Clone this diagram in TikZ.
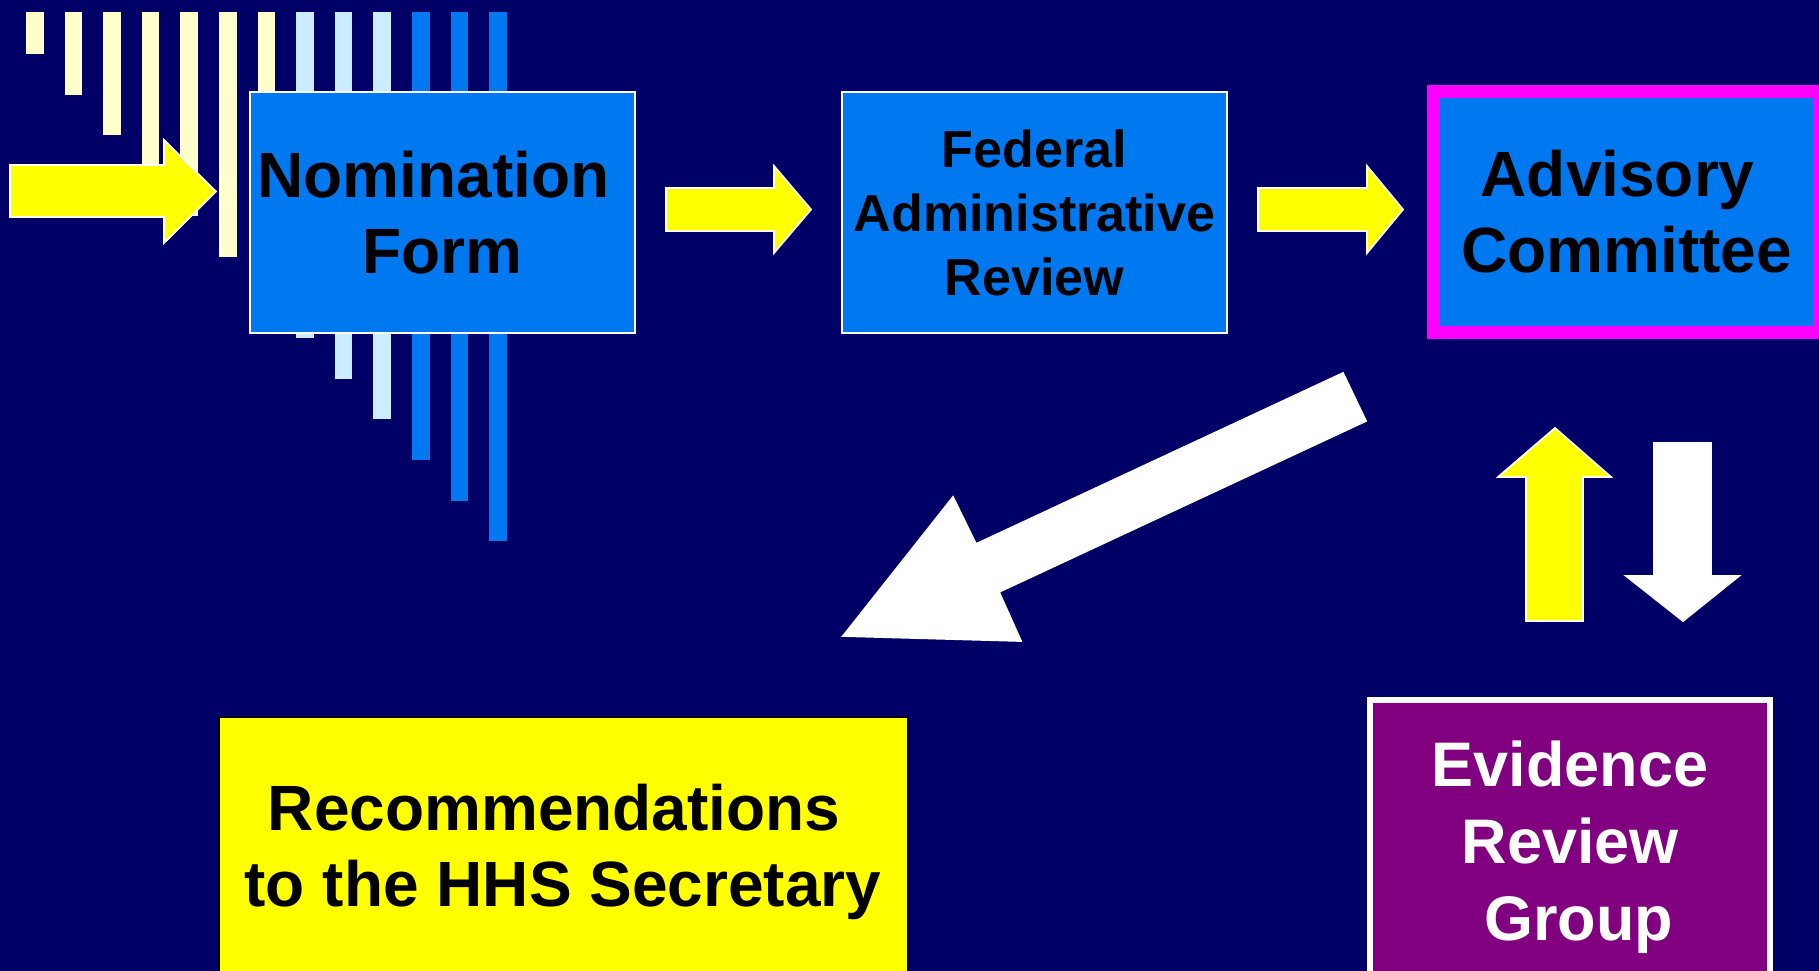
\documentclass[tikz,border=0pt]{standalone}
\usepackage{fontspec}
\setmainfont{Liberation Sans}
\usetikzlibrary{calc}
\definecolor{navy}{RGB}{0,0,102}
\definecolor{boxblue}{RGB}{0,120,240}
\definecolor{paleyellow}{RGB}{255,255,204}
\definecolor{paleblue}{RGB}{204,236,255}
\definecolor{plum}{RGB}{128,0,128}
\definecolor{signyellow}{RGB}{255,255,0}
\definecolor{brightpink}{RGB}{255,0,255}
\tikzset{
	stepbox/.style={draw=white, line width=0.4pt, fill=boxblue, minimum width=3.85cm, minimum height=2.41cm, inner sep=0pt, align=center, font=\fontsize{18.2}{21.6}\selectfont\bfseries},
	yarrow/.style={fill=signyellow, draw=white, line width=0.5pt},
	warrow/.style={fill=white, draw=white, line width=0.5pt}
}

\begin{document}
\begin{tikzpicture}[x=0.01cm, y={(0cm,-0.01cm)}]
			%%%%% START %%%%%
			
			\useasboundingbox (0, 0) rectangle (1819, 971);
			\fill[navy] (0, 0) rectangle (1819, 971);
			
			\fill[paleyellow] (26, 12) rectangle (43.5, 54);
			\fill[paleyellow] (64.6, 12) rectangle (82.1, 94.6);
			\fill[paleyellow] (103.2, 12) rectangle (120.7, 135.2);
			\fill[paleyellow] (141.8, 12) rectangle (159.3, 175.8);
			\fill[paleyellow] (180.4, 12) rectangle (197.9, 216.4);
			\fill[paleyellow] (219, 12) rectangle (236.5, 257);
			\fill[paleyellow] (257.6, 12) rectangle (275.1, 297.6);
			\fill[paleblue] (296.2, 12) rectangle (313.7, 338.2);
			\fill[paleblue] (334.8, 12) rectangle (352.3, 378.8);
			\fill[paleblue] (373.4, 12) rectangle (390.9, 419.4);
			\fill[boxblue] (412, 12) rectangle (429.5, 460);
			\fill[boxblue] (450.6, 12) rectangle (468.1, 500.6);
			\fill[boxblue] (489.2, 12) rectangle (506.7, 541.2);
			
			\node[stepbox] (nomination) at (442.5, 212.5) {\mbox{Nomination\ }\\ Form};
			\node[stepbox, font=\fontsize{14.8}{18.2}\selectfont\bfseries] (federal) at (1034.5, 212.5) {Federal\\ Administrative\\ Review};
			\node[stepbox, draw=brightpink, line width=0.13cm] (advisory) at (1626.5, 212) {\mbox{Advisory\ }\\ Committee};
			
			\node[stepbox, draw=black, fill=signyellow, minimum width=6.88cm, minimum height=2.69cm] (recommend) at (563, 851.5) {\mbox{Recommendations\ }\\ to the HHS Secretary};
			\node[stepbox, fill=plum, text=white, line width=0.06cm, minimum width=4.0cm, minimum height=2.94cm, font=\fontsize{17.9}{21.9}\selectfont\bfseries] (evidence) at (1570, 847) {Evidence\\ Review\\ \mbox{\ Group}};
			
			\draw[yarrow] (10, 165) -- (164, 165) -- (164, 140) -- (216, 191.5) -- (164, 243) -- (164, 217) -- (10, 217) -- cycle;
			\draw[yarrow] (666, 188) -- (774, 188) -- (774, 166) -- (811, 209.5) -- (774, 253) -- (774, 231) -- (666, 231) -- cycle;
			\draw[yarrow] (1258, 188) -- (1367, 188) -- (1367, 166) -- (1403, 209.5) -- (1367, 253) -- (1367, 231) -- (1258, 231) -- cycle;
			
			\draw[warrow] (1343, 373) -- (1366, 421) -- (999, 592) -- (1021, 641) -- (843, 636) -- (953, 497) -- (976, 544) -- cycle;
			
			\draw[yarrow] (1526, 621) -- (1526, 477) -- (1498, 477) -- (1555, 428) -- (1611, 477) -- (1583, 477) -- (1583, 621) -- cycle;
			\draw[warrow] (1654, 443) -- (1711, 443) -- (1711, 576) -- (1739, 576) -- (1683, 621) -- (1626, 576) -- (1654, 576) -- cycle;
			
			%%%%% END %%%%%
\end{tikzpicture}
\end{document}
